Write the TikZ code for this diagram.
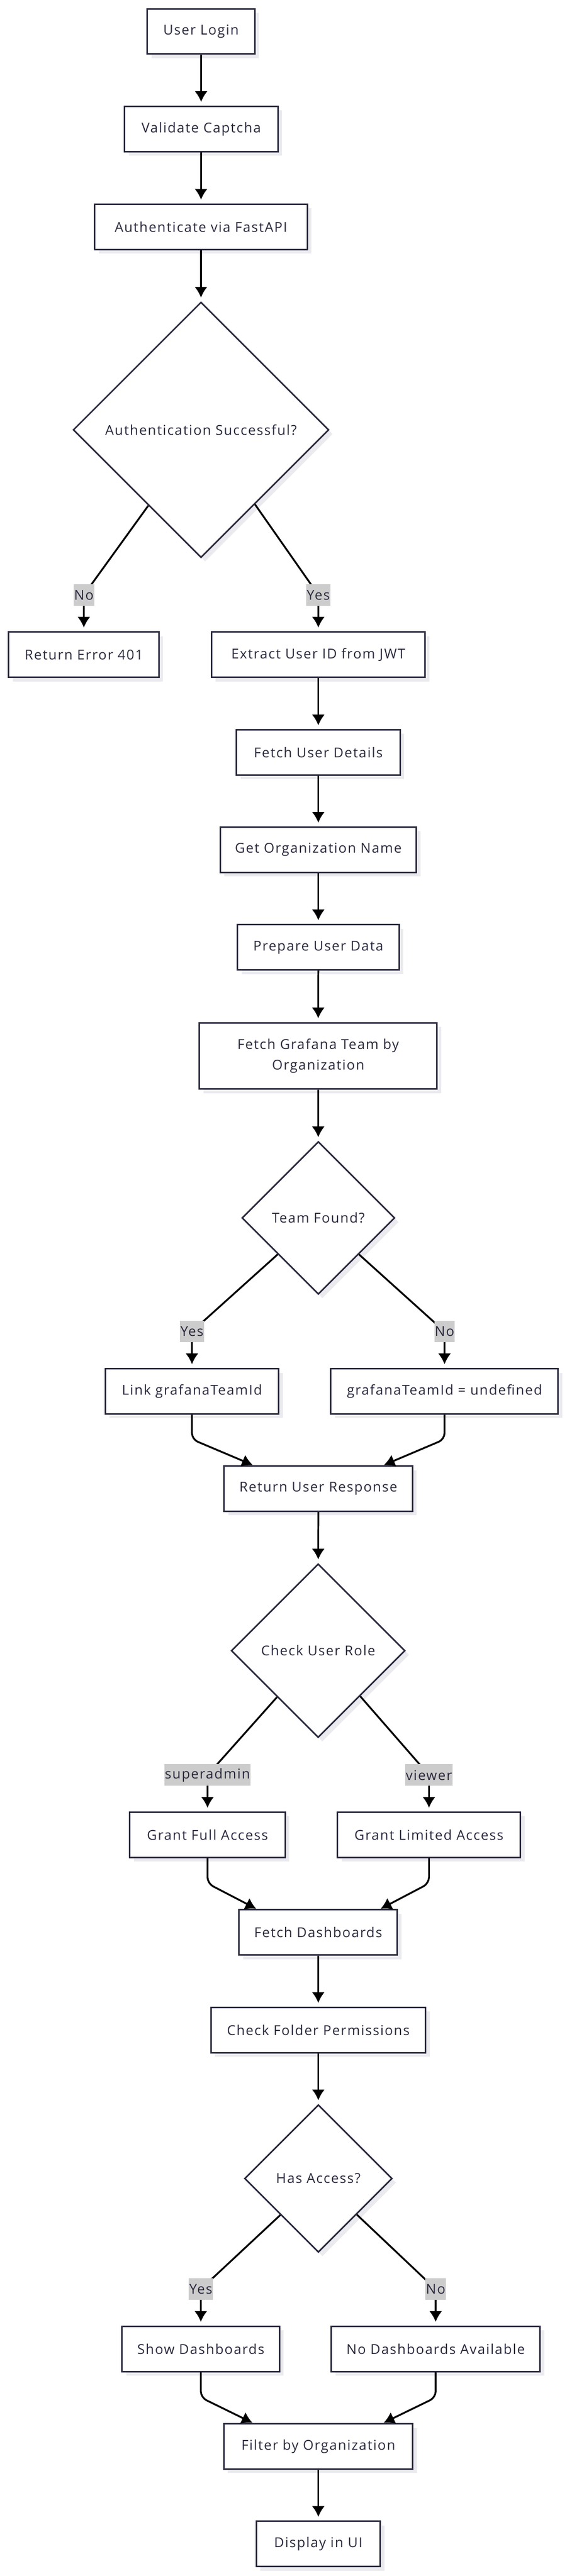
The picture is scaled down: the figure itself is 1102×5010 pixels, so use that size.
\documentclass[tikz,border=0pt]{standalone}
\usepackage{fontspec}
\setmainfont{Open Sans}[LetterSpace=7]
\usetikzlibrary{shapes.geometric,arrows.meta,calc,shadows}
\definecolor{nodeline}{HTML}{2A2A3E}
\definecolor{lblfill}{HTML}{CCCCCC}
\definecolor{shadowc}{HTML}{EBEBEF}
\begin{document}
\begin{tikzpicture}[x=1pt,y=-1pt,
  box/.style={draw=nodeline,line width=3pt,fill=white,text=nodeline,minimum height=88pt,inner sep=0pt,
    font=\fontsize{26.5pt}{40pt}\selectfont,drop shadow={shadow xshift=8pt,shadow yshift=-8pt,fill=shadowc,opacity=1}},
  dec/.style={box,diamond,aspect=1},
  lbl/.style={fill=lblfill,text=nodeline,inner xsep=1pt,inner ysep=0pt,minimum height=42pt,font=\fontsize{26.5pt}{32pt}\selectfont},
  arr/.style={line width=3.5pt,-{Latex[length=21pt,width=25pt]},shorten >=7pt},
  mergearr/.style={arr,rounded corners=12pt,shorten >=1pt}]
\useasboundingbox (0,0) rectangle (1102,5010);
\pgfmathsetmacro{\lh}{70.7}
\node[box,minimum width=209pt] (login) at (390.7,61.2) {User Login};
\node[box,minimum width=298pt] (captcha) at (391.1,250.9) {Validate Captcha};
\node[box,minimum width=413pt] (auth) at (390.7,441) {Authenticate via FastAPI};
\node[dec,minimum size=497pt] (dauth) at (390.7,836) {Authentication Successful?};
\node[box,minimum width=292pt] (err) at (163,1273.2) {Return Error 401};
\node[box,minimum width=415pt] (jwt) at (618.8,1273.2) {Extract User ID from JWT};
\node[box,minimum width=318pt] (details) at (618.8,1463.3) {Fetch User Details};
\node[box,minimum width=381pt] (orgname) at (618.8,1652.7) {Get Organization Name};
\node[box,minimum width=314pt] (prep) at (618.8,1842.4) {Prepare User Data};
\node[box,minimum width=462pt,minimum height=129pt,align=center] (team) at (618.5,2053.6) {Fetch Grafana Team by\\Organization};
\node[dec,minimum size=297pt] (dteam) at (618.8,2368.7) {Team Found?};
\node[box,minimum width=337pt] (link) at (373.2,2705.8) {Link grafanaTeamId};
\node[box,minimum width=442pt] (undef) at (864.1,2705.8) {grafanaTeamId = undefined};
\node[box,minimum width=366pt] (resp) at (618.8,2895.2) {Return User Response};
\node[dec,minimum size=338pt] (drole) at (618.5,3210.4) {Check User Role};
\node[box,minimum width=302pt] (full) at (403.4,3568.5) {Grant Full Access};
\node[box,minimum width=356pt] (limited) at (833.9,3568.5) {Grant Limited Access};
\node[box,minimum width=308pt] (dash) at (618.5,3758.3) {Fetch Dashboards};
\node[box,minimum width=417pt] (folder) at (618.8,3948) {Check Folder Permissions};
\node[dec,minimum size=287pt] (daccess) at (618.8,4236.9) {Has Access?};
\node[box,minimum width=306pt] (show) at (390.4,4568.3) {Show Dashboards};
\node[box,minimum width=406pt] (nodash) at (846.9,4568.3) {No Dashboards Available};
\node[box,minimum width=367pt] (filter) at (618.8,4758) {Filter by Organization};
\node[box,minimum width=241pt] (ui) at (618.8,4947.5) {Display in UI};
\draw[arr] (login) -- (captcha);
\draw[arr] (captcha) -- (auth);
\draw[arr] (auth) -- (dauth);
\draw[arr] ($(dauth.south)!0.41!(dauth.west)$) -- ([yshift=\lh pt]err.north) node[lbl] (lno1) {No} -- (err.north);
\draw[arr] ($(dauth.south)!0.42!(dauth.east)$) -- ([yshift=\lh pt]jwt.north) node[lbl] (lyes1) {Yes} -- (jwt.north);
\draw[arr] (jwt) -- (details);
\draw[arr] (details) -- (orgname);
\draw[arr] (orgname) -- (prep);
\draw[arr] (prep) -- (team);
\draw[arr] (team) -- (dteam);
\draw[arr] ($(dteam.south)!0.527!(dteam.west)$) -- ([yshift=\lh pt]link.north) node[lbl] (lyes2) {Yes} -- (link.north);
\draw[arr] ($(dteam.south)!0.527!(dteam.east)$) -- ([yshift=\lh pt]undef.north) node[lbl] (lno2) {No} -- (undef.north);
\draw[mergearr] (link.south) -- ++(0,48) -- ([xshift=58pt]resp.north west);
\draw[mergearr] (undef.south) -- ++(0,48) -- ([xshift=-58pt]resp.north east);
\draw[arr] (resp) -- (drole);
\draw[arr] ($(drole.south)!0.47!(drole.west)$) -- ([yshift=\lh pt]full.north) node[lbl] (lsuper) {superadmin} -- (full.north);
\draw[arr] ($(drole.south)!0.48!(drole.east)$) -- ([yshift=\lh pt]limited.north) node[lbl] (lviewer) {viewer} -- (limited.north);
\draw[mergearr] (full.south) -- ++(0,49) -- ([xshift=36pt]dash.north west);
\draw[mergearr] (limited.south) -- ++(0,49) -- ([xshift=-35pt]dash.north east);
\draw[arr] (dash) -- (folder);
\draw[arr] (folder) -- (daccess);
\draw[arr] ($(daccess.south)!0.51!(daccess.west)$) -- ([yshift=\lh pt]show.north) node[lbl] (lyes3) {Yes} -- (show.north);
\draw[arr] ($(daccess.south)!0.516!(daccess.east)$) -- ([yshift=\lh pt]nodash.north) node[lbl] (lno3) {No} -- (nodash.north);
\draw[mergearr] (show.south) -- ++(0,49) -- ([xshift=58pt]filter.north west);
\draw[mergearr] (nodash.south) -- ++(0,49) -- ([xshift=-59pt]filter.north east);
\draw[arr] (filter) -- (ui);
\end{tikzpicture}
\end{document}
